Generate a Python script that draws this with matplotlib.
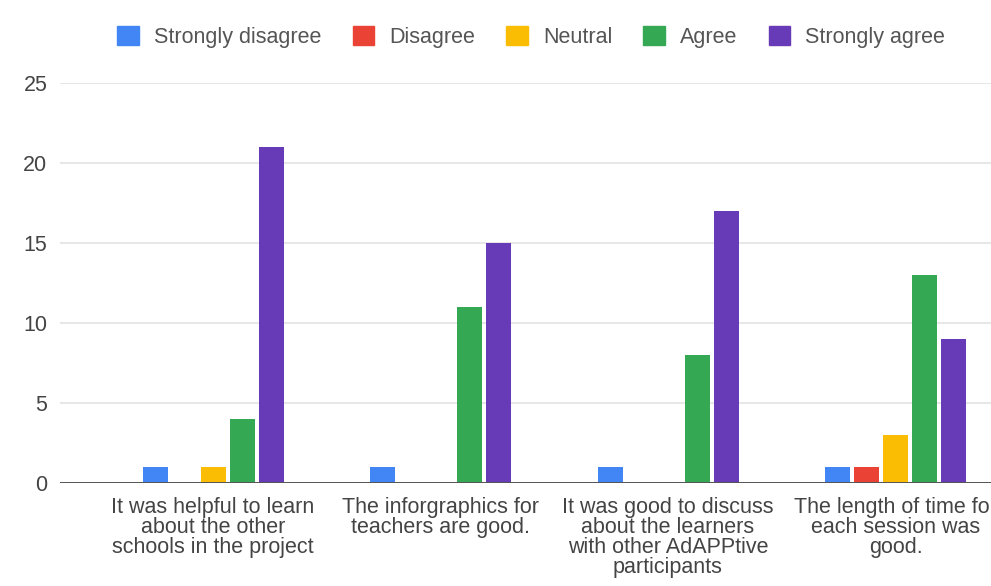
import matplotlib
matplotlib.use("Agg")
import matplotlib.pyplot as plt
import numpy as np
from matplotlib.patches import Patch

plt.rcParams['font.family'] = ['Liberation Sans', 'DejaVu Sans']

questions = [
    "It was helpful to learn\nabout the other\nschools in the project",
    "The inforgraphics for\nteachers are good.",
    "It was good to discuss\nabout the learners\nwith other AdAPPtive\nparticipants",
    "The length of time for\neach session was\ngood.",
]
answers = ["Strongly disagree", "Disagree", "Neutral", "Agree", "Strongly agree"]
colors = ["#4285f4", "#ea4335", "#fbbc04", "#34a853", "#673ab7"]

strongly_disagree = [1, 1, 1, 1]
disagree = [0, 0, 0, 1]
neutral = [1, 0, 0, 3]
agree = [4, 11, 8, 13]
strongly_agree = [21, 15, 17, 9]
counts = [strongly_disagree, disagree, neutral, agree, strongly_agree]

W, H = 991, 586
fig = plt.figure(figsize=(W / 100, H / 100), dpi=100)
# axes box in pixels: left edge 60, runs past the right border like the cropped screenshot
ax = fig.add_axes([60 / W, 103 / H, (W - 60) / W, 400 / H])

unit = 227.5          # pixels between question groups
x = np.arange(len(questions))
step = 29 / unit
width = 25 / unit

for i, (name, vals) in enumerate(zip(answers, counts)):
    ax.bar(x + (i - 2) * step, vals, width, color=colors[i], label=name, zorder=3)

ax.set_xlim(-153 / unit, (W - 213) / unit)
ax.set_ylim(0, 25)
ax.set_yticks(range(0, 26, 5))
ax.yaxis.grid(True, color="#e3e3e3", linewidth=1.2, zorder=0)
ax.axhline(0, color="#555555", linewidth=1.4, zorder=4)

ax.set_xticks(x)
ax.set_xticklabels(questions, linespacing=0.95)
ax.tick_params(axis="both", length=0, labelsize=15.5, colors="#444444")
ax.tick_params(axis="x", pad=10)
ax.tick_params(axis="y", pad=9)
for s in ax.spines.values():
    s.set_visible(False)

handles = [Patch(color=c) for c in colors]
fig.legend(handles, answers, loc="center", bbox_to_anchor=(0.536, 1 - 37 / H),
           ncol=5, frameon=False, fontsize=15.5, handlelength=1.0, handleheight=1.0,
           handletextpad=0.7, columnspacing=1.45, labelcolor="#555555")

fig.savefig("out.png", dpi=100)
